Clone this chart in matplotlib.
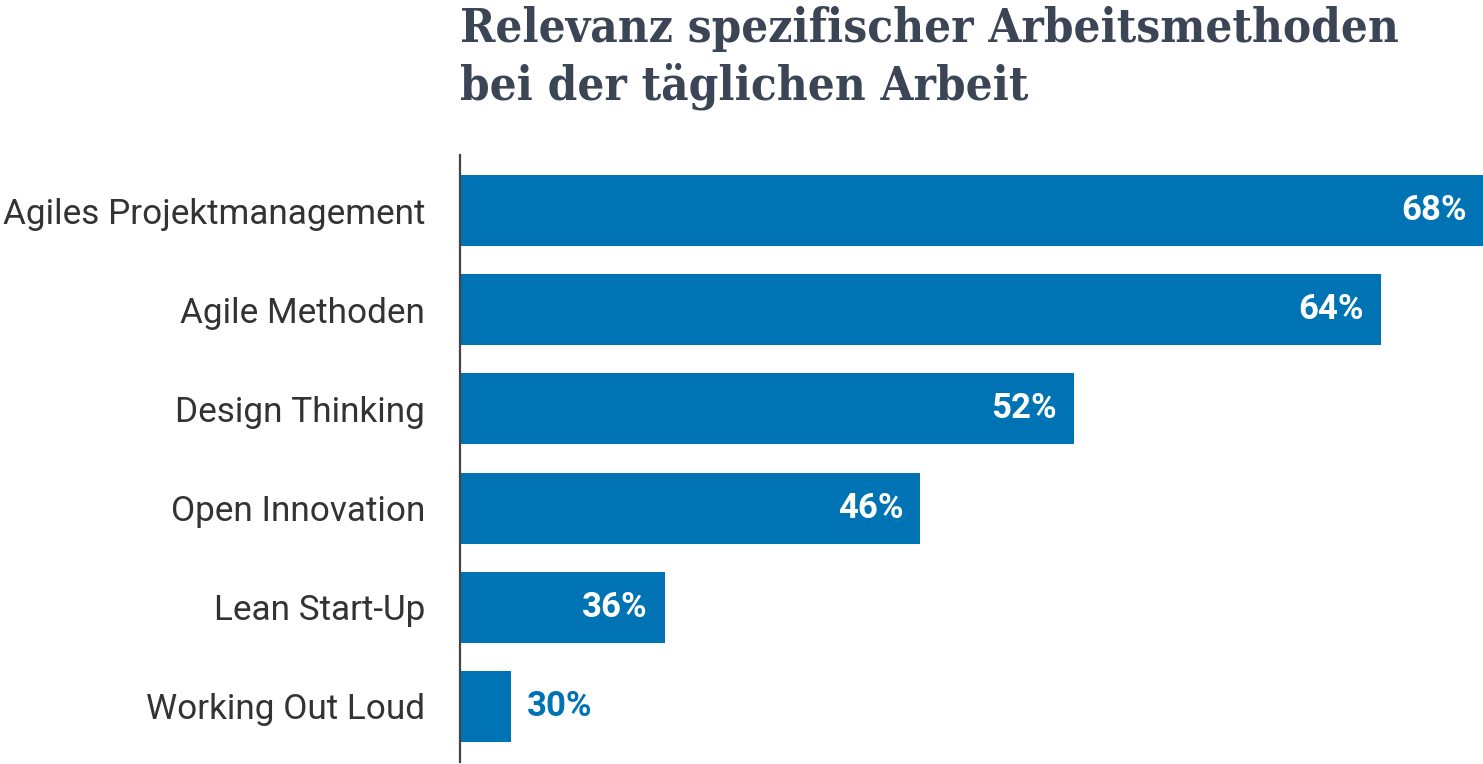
import matplotlib
matplotlib.use("Agg")
import matplotlib.pyplot as plt

categories = ["Agiles Projektmanagement", "Agile Methoden", "Design Thinking",
              "Open Innovation", "Lean Start-Up", "Working Out Loud"]
values = [68, 64, 52, 46, 36, 30]
labels = ["68%", "64%", "52%", "46%", "36%", "30%"]
title = "Relevanz spezifischer Arbeitsmethoden\nbei der täglichen Arbeit"

W, H = 1483, 764
fig = plt.figure(figsize=(W / 100, H / 100), dpi=100)
ax = fig.add_axes([460 / W, 2 / H, 1 - 460 / W, (762 - 155) / H])

bar_color = "#0073b5"
y = list(range(len(categories)))
ax.barh(y, values, height=0.715, color=bar_color, left=0)
ax.set_xlim(28, 68)
ax.set_ylim(5.56, -0.56)

for spine in ["top", "right", "bottom"]:
    ax.spines[spine].set_visible(False)
ax.spines["left"].set_color("#444444")
ax.spines["left"].set_linewidth(1.6)
ax.set_xticks([])
ax.set_yticks(y)
ax.set_yticklabels(categories, fontfamily="Roboto", fontsize=25.3, color="#333333")
ax.tick_params(axis="y", length=0, pad=25)

for i, (v, lab) in enumerate(zip(values, labels)):
    if v - 28 > 6:
        ax.annotate(lab, (v, i), xytext=(-12, 0), textcoords="offset points",
                    ha="right", va="center", color="white",
                    fontfamily="Roboto", fontweight="bold", fontsize=25)
    else:
        ax.annotate(lab, (v, i), xytext=(11, 0), textcoords="offset points",
                    ha="left", va="center", color=bar_color,
                    fontfamily="Roboto", fontweight="bold", fontsize=25)

fig.text(460 / W, 1 - 6 / H, title, ha="left", va="top",
         fontfamily="DejaVu Serif", fontstretch="condensed", fontweight="bold",
         fontsize=34, color="#3b4555", linespacing=1.29)

fig.savefig("out.png", dpi=100)
